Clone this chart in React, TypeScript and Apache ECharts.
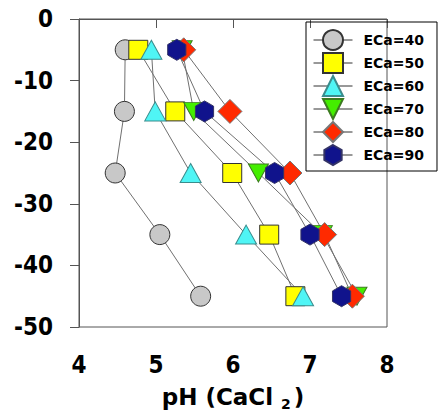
import React, { useEffect, useRef } from "react";
import * as echarts from "echarts";

const depths = [-5, -15, -25, -35, -45];
const seriesNames = ["ECa=40", "ECa=50", "ECa=60", "ECa=70", "ECa=80", "ECa=90"];
const ph40 = [4.6, 4.59, 4.47, 5.05, 5.58];
const ph50 = [4.77, 5.25, 5.99, 6.47, 6.81];
const ph60 = [4.94, 4.99, 5.45, 6.17, 6.91];
const ph70 = [5.34, 5.49, 6.33, 7.16, 7.61];
const ph80 = [5.36, 5.96, 6.74, 7.19, 7.55];
const ph90 = [5.27, 5.63, 6.54, 7.0, 7.41];
const xTicks = { min: 4, max: 8, interval: 1 };
const yTicks = { min: -50, max: 0, interval: 10 };

const phSets = [ph40, ph50, ph60, ph70, ph80, ph90];
const colors = ["#C8C8C8", "#FFFF00", "#4FF5F5", "#44EE00", "#FF2A00", "#10138C"];
const borders = ["#333333", "#333333", "#3A8C8C", "#3C7A20", "#777777", "#333366"];
const hexPath = "path://M0,0 M100,100 M50,0 L93.3,25 L93.3,75 L50,100 L6.7,75 L6.7,25 Z";
const downTri = "path://M0,0 L100,0 L50,85 Z";
const symbols = ["circle", "rect", "triangle", downTri, "diamond", hexPath];
const sizes: any[] = [20, 19, [21, 19], [20, 18], 24, 21];

export default function App() {
  const ref = useRef<HTMLDivElement>(null);
  useEffect(() => {
    if (!ref.current) return;
    const chart = echarts.init(ref.current, null, { renderer: "svg" });
    const lineSeries = phSets.map((ph, i) => ({
      type: "line",
      name: "line" + i,
      data: ph.map((x, j) => [x, depths[j]]),
      symbol: "none",
      lineStyle: { color: "#707070", width: 1 },
      z: 2,
      silent: true,
    }));
    const symSeries = phSets.map((ph, i) => ({
      type: "line",
      name: seriesNames[i],
      data: ph.map((x, j) => [x, depths[j]]),
      symbol: symbols[i],
      symbolSize: sizes[i],
      showAllSymbol: true,
      lineStyle: { opacity: 0, width: 0 },
      itemStyle: { color: colors[i], borderColor: borders[i], borderWidth: 1, opacity: 1 },
      z: 3 + i,
    }));
    const font = "'DejaVu Sans Condensed', 'DejaVu Sans', sans-serif";
    chart.setOption({
      animation: false,
      grid: { left: 79, right: 52, top: 19, bottom: 88, show: true, borderColor: "#555", borderWidth: 1 },
      legend: {
        orient: "vertical",
        left: 306,
        top: 22,
        data: seriesNames,
        padding: [7, 13, 5, 7],
        itemWidth: 39,
        itemHeight: 25,
        itemGap: 1,
        borderColor: "#000",
        borderWidth: 1,
        lineStyle: { color: "#333", width: 1, opacity: 1 },
        textStyle: { fontFamily: "'DejaVu Sans', sans-serif", fontWeight: "bold", fontSize: 14, color: "#000", padding: [0, 0, 0, 6] },
      },
      xAxis: {
        type: "value",
        min: xTicks.min,
        max: xTicks.max,
        interval: xTicks.interval,
        axisLine: { show: true, lineStyle: { color: "#555", width: 1 } },
        axisTick: { show: true, length: 9, lineStyle: { color: "#555" } },
        splitLine: { show: false },
        axisLabel: { fontFamily: font, fontWeight: "bold", fontSize: 24, color: "#000", margin: 26 },
        name: "{a|pH (CaCl }{b|2}{a|)}",
        nameLocation: "middle",
        nameGap: 58,
        nameTextStyle: {
          rich: {
            a: { fontFamily: "'DejaVu Sans', sans-serif", fontWeight: "bold", fontSize: 23, color: "#000", verticalAlign: "bottom", padding: [0, 0, 3, 0] },
            b: { fontFamily: "'DejaVu Sans', sans-serif", fontWeight: "bold", fontSize: 14, color: "#000", verticalAlign: "bottom", padding: [0, 3, 0, 0] },
          },
        },
      },
      yAxis: {
        type: "value",
        min: yTicks.min,
        max: yTicks.max,
        interval: yTicks.interval,
        axisLine: { show: true, lineStyle: { color: "#555", width: 1 } },
        axisTick: { show: true, length: 9, lineStyle: { color: "#555" } },
        splitLine: { show: false },
        axisLabel: { fontFamily: font, fontWeight: "bold", fontSize: 24, color: "#000", margin: 26 },
      },
      series: [...lineSeries, ...symSeries],
    } as any);
    return () => chart.dispose();
  }, []);
  return <div ref={ref} style={{ width: 439, height: 416, position: "absolute", left: 0, top: 0 }} />;
}
